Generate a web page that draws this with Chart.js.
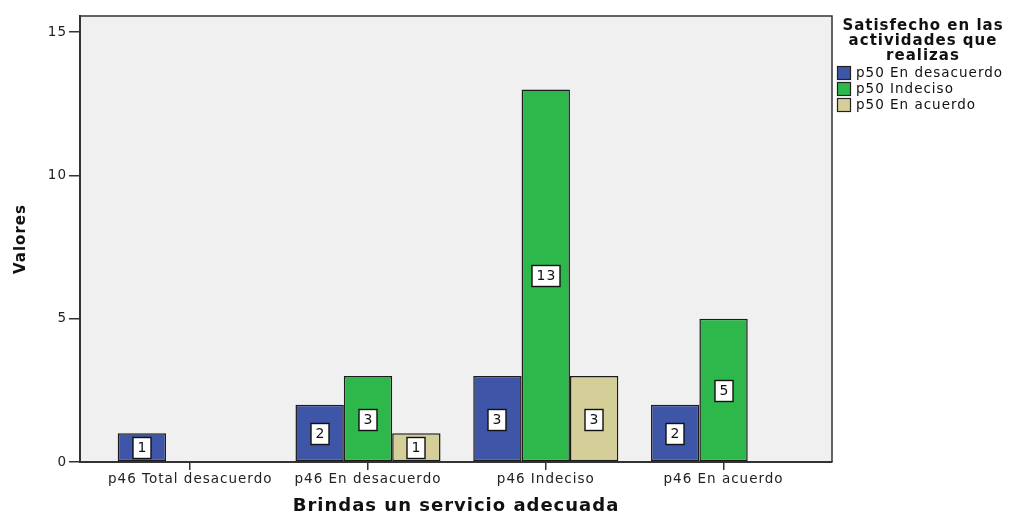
<!DOCTYPE html>
<html>
<head>
<meta charset="utf-8">
<script src="https://cdn.jsdelivr.net/npm/chart.js@4"></script>
<style>
  html, body { margin: 0; padding: 0; background: #fff; }
  #wrap { width: 1009px; height: 517px; }
</style>
</head>
<body>
<div id="wrap"><canvas id="barChart" width="1009" height="517"></canvas></div>
<script>
var categories = ["p46 Total desacuerdo", "p46 En desacuerdo", "p46 Indeciso", "p46 En acuerdo"];
var seriesNames = ["p50 En desacuerdo", "p50 Indeciso", "p50 En acuerdo"];
var enDesacuerdo = [1, 2, 3, 2];
var indeciso = [null, 3, 13, 5];
var enAcuerdo = [null, 1, 3, null];
var yTicks = [0, 5, 10, 15];
var legendTitle = ["Satisfecho en las", "actividades que", "realizas"];
var xTitle = "Brindas un servicio adecuada";
var yTitle = "Valores";
var barColors = ["#3e55a8", "#2eb84b", "#d4cf98"];

function toPoints(values) {
  return categories.map(function (c, i) {
    return { x: i, y: values[i] };
  });
}

Chart.defaults.font.family = "'DejaVu Sans', sans-serif";
Chart.defaults.color = "#222";

// grey plot background + top/right frame
var plotFrame = {
  id: "plotFrame",
  beforeDraw: function (chart) {
    var a = chart.chartArea, ctx = chart.ctx;
    ctx.letterSpacing = "1px";
    ctx.save();
    ctx.fillStyle = "#f0f0f0";
    ctx.fillRect(a.left, a.top, a.right - a.left, a.bottom - a.top);
    ctx.restore();
  },
  afterDraw: function (chart) {
    var a = chart.chartArea, ctx = chart.ctx;
    ctx.save();
    ctx.strokeStyle = "#333";
    ctx.lineWidth = 1.5;
    ctx.beginPath();
    ctx.moveTo(a.left, a.top);
    ctx.lineTo(a.right, a.top);
    ctx.lineTo(a.right, a.bottom);
    ctx.stroke();
    ctx.restore();
  }
};

// white boxed value labels in the middle of each bar
var valueBoxes = {
  id: "valueBoxes",
  afterDatasetsDraw: function (chart) {
    var ctx = chart.ctx;
    ctx.save();
    ctx.font = "14px 'DejaVu Sans'";
    ctx.textAlign = "center";
    ctx.textBaseline = "middle";
    chart.data.datasets.forEach(function (ds, di) {
      chart.getDatasetMeta(di).data.forEach(function (bar, i) {
        var v = ds.data[i].y;
        if (v === null || v === undefined) return;
        var txt = String(v);
        var w = Math.round(ctx.measureText(txt).width + 8);
        var h = 21;
        var cx = Math.round(bar.x);
        var cy = Math.round((bar.y + bar.base) / 2 + 1);
        ctx.fillStyle = "#fff";
        ctx.fillRect(cx - w / 2, cy - h / 2, w, h);
        ctx.strokeStyle = "#111";
        ctx.lineWidth = 1.4;
        ctx.strokeRect(cx - w / 2, cy - h / 2, w, h);
        ctx.fillStyle = "#111";
        ctx.fillText(txt, cx + 0.5, cy + 0.5);
      });
    });
    ctx.restore();
  }
};

// legend on the right with a three line title
var sideLegend = {
  id: "sideLegend",
  afterDraw: function (chart) {
    var ctx = chart.ctx;
    var left = chart.chartArea.right + 5;
    ctx.save();
    ctx.fillStyle = "#111";
    ctx.textAlign = "center";
    ctx.textBaseline = "middle";
    ctx.font = "bold 15px 'DejaVu Sans'";
    legendTitle.forEach(function (line, k) {
      ctx.fillText(line, left + 86, 26 + k * 15);
    });
    ctx.font = "13.5px 'DejaVu Sans'";
    ctx.textAlign = "left";
    chart.data.datasets.forEach(function (ds, k) {
      var y = 73 + k * 16;
      ctx.fillStyle = ds.backgroundColor;
      ctx.fillRect(left, y - 7, 14, 14);
      ctx.strokeStyle = "#222";
      ctx.lineWidth = 1.2;
      ctx.strokeRect(left + 0.5, y - 6.5, 13, 13);
      ctx.fillStyle = "#111";
      ctx.fillText(ds.label, left + 19, y + 0.5);
    });
    ctx.restore();
  }
};

var ctx = document.getElementById("barChart").getContext("2d");

var chart = new Chart(ctx, {
  type: "bar",
  data: {
    datasets: [
      { label: seriesNames[0], data: toPoints(enDesacuerdo), backgroundColor: barColors[0] },
      { label: seriesNames[1], data: toPoints(indeciso), backgroundColor: barColors[1] },
      { label: seriesNames[2], data: toPoints(enAcuerdo), backgroundColor: barColors[2] },
    ],
  },
  options: {
    responsive: false,
    animation: false,
    events: [],
    layout: { padding: { left: 0, top: 16, right: 177, bottom: 0 } },
    datasets: {
      bar: {
        categoryPercentage: 0.816,
        barPercentage: 1,
        borderWidth: 1.5,
        borderColor: "#1c1c1c",
        borderSkipped: false,
      },
    },
    plugins: {
      legend: { display: false },
      tooltip: { enabled: false },
    },
    scales: {
      x: {
        type: "linear",
        min: -0.62,
        max: 3.61,
        offset: false,
        grid: {
          offset: false,
          drawOnChartArea: false,
          drawTicks: true,
          tickLength: 8,
          color: "#333",
          lineWidth: 1.5,
        },
        border: { display: true, color: "#333", width: 2 },
        ticks: {
          autoSkip: false,
          maxRotation: 0,
          padding: 1,
          color: "#222",
          font: { size: 13.5 },
          callback: function (v) {
            return categories[v];
          },
        },
        afterBuildTicks: function (s) {
          s.ticks = categories.map(function (c, i) {
            return { value: i };
          });
        },
        afterFit: function (s) {
          s.height = 55;
        },
        title: {
          display: true,
          text: xTitle,
          color: "#111",
          font: { size: 18, weight: "bold" },
          padding: { top: 0, bottom: 0 },
        },
      },
      y: {
        min: 0,
        max: 15.56,
        grid: {
          drawOnChartArea: false,
          tickLength: 11,
          color: "#333",
          lineWidth: 1.5,
        },
        border: { display: true, color: "#333", width: 2 },
        ticks: {
          padding: 2,
          color: "#222",
          font: { size: 13.5 },
        },
        afterBuildTicks: function (s) {
          s.ticks = yTicks.map(function (v) {
            return { value: v };
          });
        },
        afterFit: function (s) {
          s.width = 80;
        },
        title: {
          display: true,
          text: yTitle,
          color: "#111",
          font: { size: 15, weight: "bold" },
          padding: { top: 12, bottom: 0 },
        },
      },
    },
  },
  plugins: [plotFrame, valueBoxes, sideLegend],
});
</script>
</body>
</html>
